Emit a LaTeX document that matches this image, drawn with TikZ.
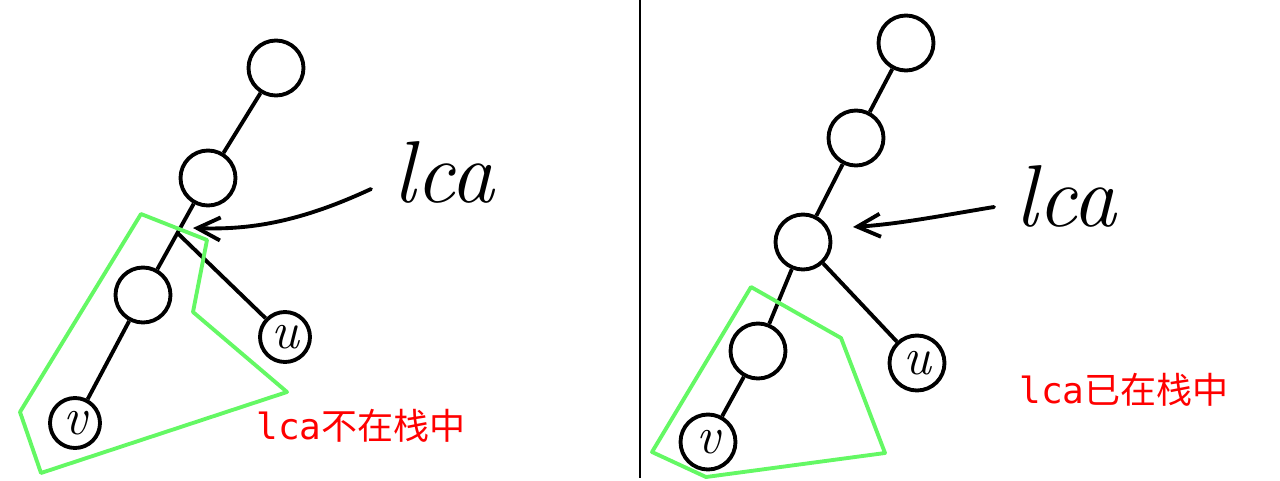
\documentclass[tikz,border=0pt]{standalone}
\usepackage{fontspec}
\newfontfamily\cjkfont{Noto Sans CJK SC}
\newfontfamily\codefont{DejaVu Sans Mono}
\usetikzlibrary{arrows.meta,calc}
\definecolor{stackgreen}{RGB}{100,248,100}

\begin{document}
\begin{tikzpicture}[x=0.02cm, y=-0.02cm, line width=2.2pt,
    vertex/.style={circle, draw, minimum size=11mm, inner sep=0pt, font=\itshape\fontsize{30}{30}\selectfont},
    leaf/.style={vertex, minimum size=10mm},
    pointer/.style={-{Straight Barb[length=4.6mm, width=4.6mm]}, line cap=round},
    hand/.style={inner sep=0pt, font=\itshape\fontsize{50}{50}\selectfont},
    stackbox/.style={draw=stackgreen, line width=2.2pt, line join=round},
    note/.style={text=red, inner sep=0pt, font=\fontsize{20.5}{24}\selectfont}]
  \useasboundingbox (0,0) rectangle (1280,480);

  % Left: lca not on the stack
  \node[vertex] (lt) at (276,68) {};
  \node[vertex] (lm) at (208,178) {};
  \node[vertex] (lb) at (143,295) {};
  \node[leaf] (lv) at (75,423) {v};
  \node[leaf] (lu) at (285,337) {u};
  \foreach \a/\b in {lt/lm, lm/lb, lb/lv} {
    \draw (\a) -- (\b);
  }
  \coordinate (lfork) at ($(lm)!0.47!(lb)$);
  \draw (lfork) -- (lu);

  \node[hand] (lcaL) at (444,172) {lca};
  \coordinate (fromL) at (371,189);
  \coordinate (tipL) at (193,228);
  \draw[pointer] (fromL) .. controls (300,222) and (250,230) .. (tipL);

  \draw[stackbox] (141,214) -- (207,240) -- (193,312) -- (287,392)
    -- (41,473) -- (20,412) -- cycle;
  \node[note] (msgL) at (361,426) {{\codefont lca}{\cjkfont 不在栈中}};

  % Divider
  \draw[line width=1pt] (640,0) -- (640,478);

  % Right: lca already on the stack
  \node[vertex] (rt) at (906,43) {};
  \node[vertex] (rm) at (856,138) {};
  \node[vertex] (rl) at (803,242) {};
  \node[vertex] (rb) at (758,351) {};
  \node[vertex] (rv) at (708,442) {v};
  \node[vertex] (ru) at (917,363) {u};
  \foreach \a/\b in {rt/rm, rm/rl, rl/rb, rb/rv, rl/ru} {
    \draw (\a) -- (\b);
  }

  \node[hand] (lcaR) at (1066,196) {lca};
  \coordinate (fromR) at (994,207);
  \coordinate (tipR) at (853,227);
  \draw[pointer] (fromR) .. controls (945,215) and (900,224) .. (tipR);

  \draw[stackbox] (751,287) -- (841,338) -- (885,453) -- (706,477)
    -- (652,452) -- cycle;
  \node[note] (msgR) at (1124,390) {{\codefont lca}{\cjkfont 已在栈中}};
\end{tikzpicture}
\end{document}
